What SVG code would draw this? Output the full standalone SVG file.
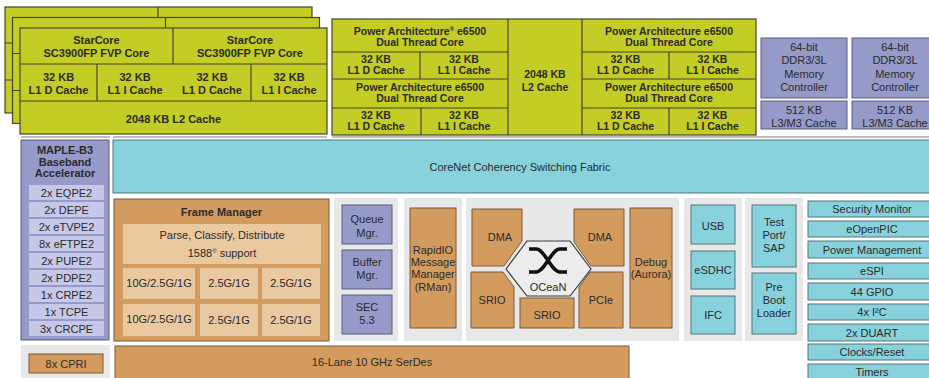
<svg xmlns="http://www.w3.org/2000/svg" xmlns:xlink="http://www.w3.org/1999/xlink" width="929" height="378" viewBox="0 0 929 378">
<style>
.lime{fill:#c4cc26;stroke:#45452e;stroke-width:1.2}
.ln{stroke:#45452e;stroke-width:1.2;fill:none}
.purple{fill:#959ac9;stroke:#5a5e80;stroke-width:1}
.lpurple{fill:#c6c8e7}
.cyan{fill:#87d2dc;stroke:#55767c;stroke-width:1}
.orange{fill:#d39b5e;stroke:#7d5a37;stroke-width:1}
.lorange{fill:#eac9a1}
.panel{fill:#e8e8e8}
.gl{stroke:#bdbdbd;stroke-width:2}
text{font-family:"Liberation Sans",Arial,sans-serif;font-size:11px;fill:#2b2b2b;text-anchor:middle}
.b{font-weight:bold}
.s{font-size:10.5px}
</style>
<defs>
<g id="scLayer">
<rect class="lime" x="0" y="0" width="307" height="106"/>
<path class="ln" d="M153,0V36M0,36H307M0,73H307M77,36V73M231,36V73"/>
</g>
</defs>
<rect width="929" height="378" fill="#ffffff"/>

<!-- background gray strips / panels -->
<g id="panels">
<path class="gl" d="M21,137H110M113,137H327M332,137H929"/>
<rect class="panel" x="334" y="198" width="64" height="143"/>
<rect class="panel" x="404" y="198" width="58" height="143"/>
<rect class="panel" x="466" y="198" width="213" height="143"/>
<rect class="panel" x="684" y="198" width="58" height="143"/>
<rect class="panel" x="745" y="198" width="58" height="143"/>
<rect class="panel" x="21" y="345" width="89" height="33"/>
</g>

<g id="starcore-cluster">
<use xlink:href="#scLayer" x="5" y="7"/>
<use xlink:href="#scLayer" x="12.5" y="17.5"/>
<use xlink:href="#scLayer" x="20" y="28"/>
<text class="b" x="96.5" y="44">StarCore</text>
<text class="b" x="96.5" y="57">SC3900FP FVP Core</text>
<text class="b" x="250" y="44">StarCore</text>
<text class="b" x="250" y="57">SC3900FP FVP Core</text>
<text class="b" x="58.5" y="81">32 KB</text><text class="b" x="58.5" y="94">L1 D Cache</text>
<text class="b" x="135" y="81">32 KB</text><text class="b" x="135" y="94">L1 I Cache</text>
<text class="b" x="212" y="81">32 KB</text><text class="b" x="212" y="94">L1 D Cache</text>
<text class="b" x="289" y="81">32 KB</text><text class="b" x="289" y="94">L1 I Cache</text>
<text class="b" x="173.5" y="123">2048 KB L2 Cache</text>
</g>

<g id="power-cluster">
<rect class="lime" x="332" y="19" width="424" height="116"/>
<path class="ln" d="M508,19V135M582,19V135M332,52H508M332,79H508M332,108H508M582,52H756M582,79H756M582,108H756M420,52V79M421,108V135M669,52V79M669,108V135"/>
<text class="b s" x="420" y="35">Power Architecture<tspan font-size="6" dy="-4">®</tspan><tspan dy="4"> e6500</tspan></text>
<text class="b s" x="420" y="46">Dual Thread Core</text>
<text class="b s" x="376" y="63">32 KB</text><text class="b s" x="376" y="74">L1 D Cache</text>
<text class="b s" x="464" y="63">32 KB</text><text class="b s" x="464" y="74">L1 I Cache</text>
<text class="b s" x="420" y="91">Power Architecture e6500</text>
<text class="b s" x="420" y="102">Dual Thread Core</text>
<text class="b s" x="376" y="119">32 KB</text><text class="b s" x="376" y="130">L1 D Cache</text>
<text class="b s" x="464" y="119">32 KB</text><text class="b s" x="464" y="130">L1 I Cache</text>
<text class="b s" x="545" y="78">2048 KB</text><text class="b s" x="545" y="91">L2 Cache</text>
<text class="b s" x="669" y="35">Power Architecture e6500</text>
<text class="b s" x="669" y="46">Dual Thread Core</text>
<text class="b s" x="625.5" y="63">32 KB</text><text class="b s" x="625.5" y="74">L1 D Cache</text>
<text class="b s" x="712.5" y="63">32 KB</text><text class="b s" x="712.5" y="74">L1 I Cache</text>
<text class="b s" x="669" y="91">Power Architecture e6500</text>
<text class="b s" x="669" y="102">Dual Thread Core</text>
<text class="b s" x="625.5" y="119">32 KB</text><text class="b s" x="625.5" y="130">L1 D Cache</text>
<text class="b s" x="712.5" y="119">32 KB</text><text class="b s" x="712.5" y="130">L1 I Cache</text>
</g>

<g id="ddr1">
<rect class="purple" x="761" y="38" width="86" height="60"/>
<text x="804" y="51">64-bit</text><text x="804" y="64">DDR3/3L</text><text x="804" y="78">Memory</text><text x="804" y="91">Controller</text>
<rect class="purple" x="761" y="101" width="86" height="28"/>
<text x="804" y="114">512 KB</text><text x="804" y="127">L3/M3 Cache</text>
</g>
<g id="ddr2">
<rect class="purple" x="852" y="38" width="86" height="60"/>
<text x="895" y="51">64-bit</text><text x="895" y="64">DDR3/3L</text><text x="895" y="78">Memory</text><text x="895" y="91">Controller</text>
<rect class="purple" x="852" y="101" width="86" height="28"/>
<text x="895" y="114">512 KB</text><text x="895" y="127">L3/M3 Cache</text>
</g>

<g id="corenet">
<rect class="cyan" x="113" y="140" width="825" height="53"/>
<text x="520" y="171">CoreNet Coherency Switching Fabric</text>
</g>

<g id="maple">
<rect class="purple" x="21" y="140" width="88" height="200"/>
<text class="b" x="65" y="154">MAPLE-B3</text>
<text class="b" x="65" y="166">Baseband</text>
<text class="b" x="65" y="177">Accelerator</text>
<rect class="lpurple" x="29" y="185" width="75" height="15"/><text x="66.5" y="196.5">2x EQPE2</text>
<rect class="lpurple" x="29" y="202" width="75" height="15"/><text x="66.5" y="213.5">2x DEPE</text>
<rect class="lpurple" x="29" y="219" width="75" height="15"/><text x="66.5" y="230.5">2x eTVPE2</text>
<rect class="lpurple" x="29" y="236" width="75" height="15"/><text x="66.5" y="247.5">8x eFTPE2</text>
<rect class="lpurple" x="29" y="253" width="75" height="15"/><text x="66.5" y="264.5">2x PUPE2</text>
<rect class="lpurple" x="29" y="270" width="75" height="15"/><text x="66.5" y="281.5">2x PDPE2</text>
<rect class="lpurple" x="29" y="287" width="75" height="15"/><text x="66.5" y="298.5">1x CRPE2</text>
<rect class="lpurple" x="29" y="304" width="75" height="15"/><text x="66.5" y="315.5">1x TCPE</text>
<rect class="lpurple" x="29" y="321" width="75" height="15"/><text x="66.5" y="332.5">3x CRCPE</text>
</g>

<g id="frame-manager">
<rect class="orange" x="114" y="199" width="215" height="142"/>
<text class="b" x="221.5" y="216">Frame Manager</text>
<rect class="lorange" x="123" y="224" width="198" height="40"/>
<text x="222" y="239">Parse, Classify, Distribute</text>
<text x="222" y="257">1588<tspan font-size="6" dy="-4">®</tspan><tspan dy="4"> support</tspan></text>
<rect class="lorange" x="123" y="268" width="72" height="31"/><text x="159" y="287">10G/2.5G/1G</text>
<rect class="lorange" x="200" y="268" width="58" height="31"/><text x="229" y="287">2.5G/1G</text>
<rect class="lorange" x="262" y="268" width="58" height="31"/><text x="291" y="287">2.5G/1G</text>
<rect class="lorange" x="123" y="304" width="72" height="32"/><text x="159" y="323">10G/2.5G/1G</text>
<rect class="lorange" x="200" y="304" width="58" height="32"/><text x="229" y="324">2.5G/1G</text>
<rect class="lorange" x="262" y="304" width="58" height="32"/><text x="291" y="324">2.5G/1G</text>
</g>

<g id="queue-mgr"><rect class="purple" x="342" y="205" width="50" height="39"/><text x="367" y="223">Queue</text><text x="367" y="237">Mgr.</text></g>
<g id="buffer-mgr"><rect class="purple" x="342" y="250" width="50" height="39"/><text x="367" y="266">Buffer</text><text x="367" y="279">Mgr.</text></g>
<g id="sec"><rect class="purple" x="342" y="295" width="50" height="39"/><text x="367" y="311">SEC</text><text x="367" y="324">5.3</text></g>

<g id="rman"><rect class="orange" x="410" y="208" width="46" height="120"/>
<text x="433" y="254">RapidIO</text><text x="433" y="266">Message</text><text x="433" y="278">Manager</text><text x="433" y="291">(RMan)</text></g>

<g id="dma1"><polygon class="orange" points="472,209 522,209 522,241 504,266 472,266"/><text x="500" y="241">DMA</text></g>
<g id="srio1"><polygon class="orange" points="471,272 503,272 514,287 514,328 471,328"/><text x="492" y="304">SRIO</text></g>
<g id="srio2"><rect class="orange" x="520" y="298" width="54" height="30"/><text x="547" y="319">SRIO</text></g>
<g id="dma2"><polygon class="orange" points="574,209 624,209 624,266 591,266 574,242"/><text x="600" y="241">DMA</text></g>
<g id="pcie"><polygon class="orange" points="590,272 623,272 623,328 579,328 579,287"/><text x="601" y="304">PCIe</text></g>
<g id="ocean">
<polygon points="506,269 527,241 570,241 591,269 570,296 527,296" fill="#ececec" stroke="#3a3a3a" stroke-width="1.2"/>
<path d="M529,249H536C545,249 551,272 560,272H567M529,272H536C545,272 551,249 560,249H567" fill="none" stroke="#111" stroke-width="3.5"/>
<text x="548" y="291">OCeaN</text>
</g>
<g id="debug"><rect class="orange" x="630" y="208" width="42" height="120"/><text x="651" y="266">Debug</text><text x="651" y="278">(Aurora)</text></g>

<g id="usb"><rect class="cyan" x="691" y="205" width="44" height="39"/><text x="713" y="230">USB</text></g>
<g id="esdhc"><rect class="cyan" x="691" y="251" width="44" height="38"/><text x="713" y="274">eSDHC</text></g>
<g id="ifc"><rect class="cyan" x="691" y="296" width="44" height="38"/><text x="713" y="319">IFC</text></g>

<g id="testport"><rect class="cyan" x="752" y="205" width="44" height="62"/><text x="774" y="226">Test</text><text x="774" y="239">Port/</text><text x="774" y="252">SAP</text></g>
<g id="preboot"><rect class="cyan" x="752" y="273" width="44" height="61"/><text x="774" y="291">Pre</text><text x="774" y="304">Boot</text><text x="774" y="317">Loader</text></g>

<g id="security-monitor"><rect class="cyan" x="808" y="201" width="128" height="16"/><text x="872" y="213">Security Monitor</text></g>
<g id="eopenpic"><rect class="cyan" x="808" y="221" width="128" height="16"/><text x="872" y="233">eOpenPIC</text></g>
<g id="power-management"><rect class="cyan" x="808" y="241" width="128" height="17"/><text x="872" y="253.5">Power Management</text></g>
<g id="espi"><rect class="cyan" x="808" y="263" width="128" height="16"/><text x="872" y="275">eSPI</text></g>
<g id="gpio"><rect class="cyan" x="808" y="283" width="128" height="17"/><text x="872" y="295.5">44 GPIO</text></g>
<g id="i2c"><rect class="cyan" x="808" y="304" width="128" height="16"/><text x="872" y="316">4x I²C</text></g>
<g id="duart"><rect class="cyan" x="808" y="324" width="128" height="17"/><text x="872" y="336.5">2x DUART</text></g>
<g id="clocks"><rect class="cyan" x="808" y="344" width="128" height="16"/><text x="872" y="356">Clocks/Reset</text></g>
<g id="timers"><rect class="cyan" x="808" y="364" width="128" height="20"/><text x="872" y="376">Timers</text></g>

<g id="cpri"><rect class="orange" x="29" y="354" width="74" height="19"/><text x="66" y="368">8x CPRI</text></g>
<g id="serdes"><rect class="orange" x="115" y="346" width="514" height="40"/><text x="372" y="366">16-Lane 10 GHz SerDes</text></g>

<g id="connectors"/>
</svg>
